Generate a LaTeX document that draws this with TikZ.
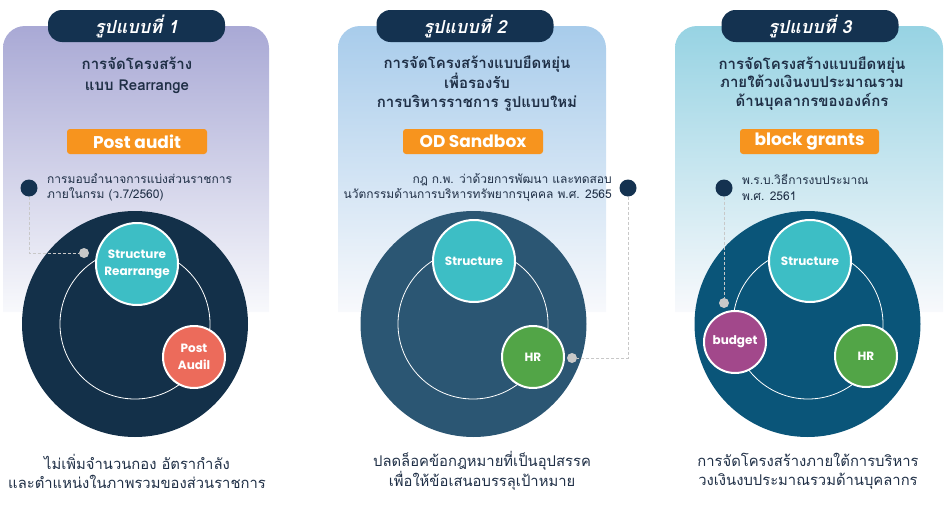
\documentclass[tikz,border=0pt]{standalone}
\usepackage{fontspec}
\newfontfamily\thai[Script=Thai]{Loma}
\newfontfamily\pop{Poppins}
\definecolor{navy}{HTML}{143250}
\definecolor{big1}{HTML}{133049}
\definecolor{big2}{HTML}{2B5673}
\definecolor{big3}{HTML}{0A5579}
\definecolor{tealc}{HTML}{3DBEC5}
\definecolor{coral}{HTML}{EC6B5B}
\definecolor{greenc}{HTML}{52A547}
\definecolor{purplec}{HTML}{A2488B}
\definecolor{orangec}{HTML}{F7941E}
\definecolor{greydot}{HTML}{C8C8C8}
\definecolor{txt}{HTML}{1F2F46}
\definecolor{lav}{HTML}{A9A9D5}
\definecolor{lblue}{HTML}{A8CCEB}
\definecolor{lcyan}{HTML}{97D3E3}
\definecolor{pale}{HTML}{F8F9FC}
\begin{document}
\begin{tikzpicture}[x=1pt,y=-1pt,
  pill/.style={fill=navy, rounded corners=14pt, minimum width=177pt, minimum height=32pt, inner sep=0pt, text=white, font=\thai\bfseries\itshape\fontsize{18}{20}\selectfont},
  ttl/.style={align=center, text=txt, font=\thai\bfseries\fontsize{15}{18.5}\selectfont},
  obox/.style={fill=orangec, rounded corners=3pt, minimum width=140pt, minimum height=25pt, inner sep=0pt, text=white, font=\pop\bfseries\fontsize{17}{18}\selectfont},
  ndot/.style={circle, fill=navy, minimum size=17pt, inner sep=0pt},
  gdot/.style={circle, fill=greydot, minimum size=10pt, inner sep=0pt},
  ref/.style={text=txt, font=\thai\fontsize{12}{15.5}\selectfont, inner sep=0pt},
  bigc/.style={circle, minimum size=226pt, inner sep=0pt},
  ring/.style={circle, draw=white, line width=0.8pt, minimum size=150pt, inner sep=0pt},
  bubL/.style={circle, draw=white, line width=2pt, minimum size=82pt, inner sep=0pt, text=white, align=center, font=\pop\bfseries\fontsize{12}{17}\selectfont},
  bubS/.style={circle, draw=white, line width=2pt, minimum size=62pt, inner sep=0pt, text=white, align=center, font=\pop\bfseries\fontsize{12}{17.5}\selectfont},
  btm/.style={align=center, text=txt, font=\thai\fontsize{14.8}{19}\selectfont},
  conn/.style={draw=greydot, line width=1pt, dash pattern=on 3pt off 2pt}
]
\useasboundingbox (0,0) rectangle (946,506);
% panel backgrounds
\shade[top color=lav, bottom color=pale] (3,312) [rounded corners=22pt] -- (3,26) -- (269,26) [sharp corners] -- (269,312) -- cycle;
\shade[top color=lblue, bottom color=pale] (338,312) [rounded corners=22pt] -- (338,26) -- (606,26) [sharp corners] -- (606,312) -- cycle;
\shade[top color=lcyan, bottom color=pale] (675,312) [rounded corners=22pt] -- (675,26) -- (943,26) [sharp corners] -- (943,312) -- cycle;

% pills
\node[pill] (p1) at (136.5,26) {รูปแบบที่ 1};
\node[pill] (p2) at (465,26) {รูปแบบที่ 2};
\node[pill] (p3) at (810,26) {รูปแบบที่ 3};

% titles
\node[ttl] (t1) at (137,75.5) {การจัดโครงสร้าง\\[2pt]แบบ Rearrange};
\node[ttl] (t2) at (477,83.5) {การจัดโครงสร้างแบบยืดหยุ่น\\เพื่อรองรับ\\การบริหารราชการ รูปแบบใหม่};
\node[ttl] (t3) at (812,83.5) {การจัดโครงสร้างแบบยืดหยุ่น\\ภายใต้วงเงินงบประมาณรวม\\ด้านบุคลากรขององค์กร};

% orange boxes
\node[obox] (o1) at (137,141.5) {Post audit};
\node[obox] (o2) at (473,141.5) {OD Sandbox};
\node[obox, minimum width=139pt] (o3) at (809.5,141.5) {block grants};

% reference dots and texts
\node[ndot] (d1) at (29,188) {};
\node[ref, anchor=west, align=left] (r1) at (47,187.5) {การมอบอำนาจการแบ่งส่วนราชการ\\ภายในกรม (ว.7/2560)};
\node[ndot] (d2) at (628,188) {};
\node[ref, anchor=east, align=right] (r2) at (612,187.5) {กฎ ก.พ. ว่าด้วยการพัฒนา และทดสอบ\\นวัตกรรมด้านการบริหารทรัพยากรบุคคล พ.ศ. 2565};
\node[ndot] (d3) at (724,188) {};
\node[ref, anchor=west, align=left] (r3) at (742,187.5) {พ.ร.บ.วิธีการงบประมาณ\\พ.ศ. 2561};

% panel 1 circles
\node[bigc, fill=big1] (c1) at (135,324) {};
\node[ring] (q1) at (135,324) {};
\node[bubL, fill=tealc] (s1) at (137,264) {Structure\\Rearrange};
\node[bubS, fill=coral] (a1) at (194,357) {Post\\Audil};
\node[gdot] (g1) at (84,253) {};

% panel 2 circles
\node[bigc, fill=big2] (c2) at (473.5,324) {};
\node[ring] (q2) at (473,324) {};
\node[bubL, fill=tealc] (s2) at (474,261) {Structure};
\node[bubS, fill=greenc] (h2) at (533,357) {HR};
\node[gdot] (g2) at (572,358) {};

% panel 3 circles
\node[bigc, fill=big3] (c3) at (807.5,324) {};
\node[ring] (q3) at (808,324) {};
\node[bubL, fill=tealc] (s3) at (810,261) {Structure};
\node[bubS, fill=purplec] (b3) at (735,342) {budget};
\node[bubS, fill=greenc] (h3) at (866,356) {HR};
\node[gdot] (g3) at (724,303) {};

% connectors
\draw[conn] (d1.south) |- (g1.west);
\draw[conn] (d2.south) |- (g2.east);
\draw[conn] (d3.south) -- (g3.north);

% bottom texts
\node[btm] (f1) at (137,471) {ไม่เพิ่มจำนวนกอง อัตรากำลัง\\และตำแหน่งในภาพรวมของส่วนราชการ};
\node[btm] (f2) at (482,471) {ปลดล็อคข้อกฎหมายที่เป็นอุปสรรค\\เพื่อให้ข้อเสนอบรรลุเป้าหมาย};
\node[btm] (f3) at (808,471) {การจัดโครงสร้างภายใต้การบริหาร\\วงเงินงบประมาณรวมด้านบุคลากร};
\end{tikzpicture}
\end{document}
